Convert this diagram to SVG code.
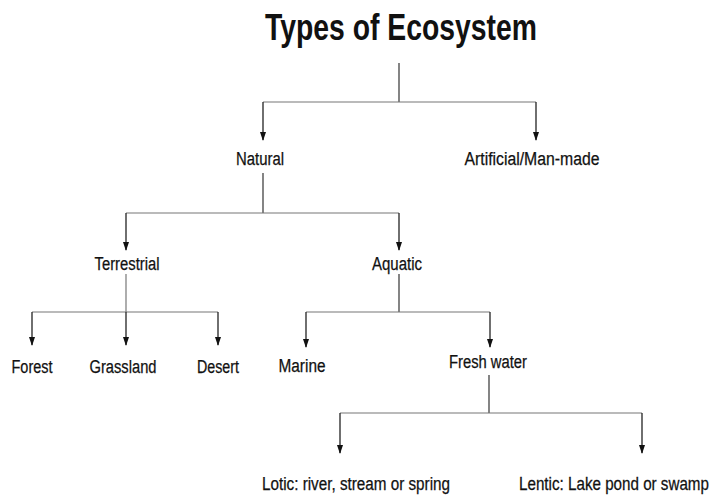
<svg xmlns="http://www.w3.org/2000/svg" width="715" height="497" viewBox="0 0 715 497">
<style>
.t{font-family:"Liberation Sans",Arial,sans-serif;font-size:18px;fill:#111;text-anchor:middle;stroke:#111;stroke-width:0.25}
.h{font-family:"Liberation Sans",Arial,sans-serif;font-size:37px;font-weight:bold;fill:#111;text-anchor:middle}
.c{fill:none;stroke:#333;stroke-width:1.2}
.g{fill:none;stroke:#777;stroke-width:1.2}
.a{fill:none;stroke:#222;stroke-width:1.3;marker-end:url(#ah)}
</style>
<defs>
<marker id="ah" markerUnits="userSpaceOnUse" markerWidth="9" markerHeight="7" refX="8" refY="3.5" orient="auto" viewBox="0 0 9 7">
<path d="M0,0.5 L9,3.5 L0,6.5 Z" fill="#111"/>
</marker>
</defs>
<rect width="715" height="497" fill="#fff"/>
<g id="title"><text class="h" x="401" y="40" textLength="272" lengthAdjust="spacingAndGlyphs">Types of Ecosystem</text></g>
<g id="natural"><text class="t" x="260" y="165" textLength="48" lengthAdjust="spacingAndGlyphs">Natural</text></g>
<g id="artificial"><text class="t" x="532" y="165" textLength="135" lengthAdjust="spacingAndGlyphs">Artificial/Man-made</text></g>
<g id="terrestrial"><text class="t" x="127" y="270" textLength="65" lengthAdjust="spacingAndGlyphs">Terrestrial</text></g>
<g id="aquatic"><text class="t" x="397" y="270" textLength="50" lengthAdjust="spacingAndGlyphs">Aquatic</text></g>
<g id="forest"><text class="t" x="32" y="373" textLength="41" lengthAdjust="spacingAndGlyphs">Forest</text></g>
<g id="grassland"><text class="t" x="123" y="373" textLength="67" lengthAdjust="spacingAndGlyphs">Grassland</text></g>
<g id="desert"><text class="t" x="218" y="373" textLength="42" lengthAdjust="spacingAndGlyphs">Desert</text></g>
<g id="marine"><text class="t" x="302" y="372" textLength="47" lengthAdjust="spacingAndGlyphs">Marine</text></g>
<g id="freshwater"><text class="t" x="488" y="368" textLength="78" lengthAdjust="spacingAndGlyphs">Fresh water</text></g>
<g id="lotic"><text class="t" x="356" y="490" textLength="188" lengthAdjust="spacingAndGlyphs">Lotic: river, stream or spring</text></g>
<g id="lentic"><text class="t" x="0" y="0" transform="translate(614,490) scale(1,1.18)" style="font-size:15.2px;stroke-width:0.22">Lentic: Lake pond or swamp</text></g>
<g id="connectors">
<path class="c" d="M399,63 V102"/>
<path class="g" d="M263,102 H536"/>
<path class="a" d="M263,102 V140"/>
<path class="a" d="M536,102 V140"/>
<path class="c" d="M263,173 V213"/>
<path class="g" d="M126,213 H399"/>
<path class="a" d="M126,213 V250"/>
<path class="a" d="M399,213 V250"/>
<path class="g" d="M126,274 V312"/>
<path class="g" d="M32,312 H218"/>
<path class="a" d="M32,312 V345"/>
<path class="a" d="M126,312 V345"/>
<path class="a" d="M218,312 V345"/>
<path class="c" d="M399,274 V312"/>
<path class="g" d="M306,312 H490"/>
<path class="a" d="M306,312 V347"/>
<path class="a" d="M490,312 V347"/>
<path class="c" d="M489,375 V413"/>
<path class="g" d="M340,413 H642"/>
<path class="a" d="M340,413 V453"/>
<path class="a" d="M642,413 V453"/>
</g>
</svg>
